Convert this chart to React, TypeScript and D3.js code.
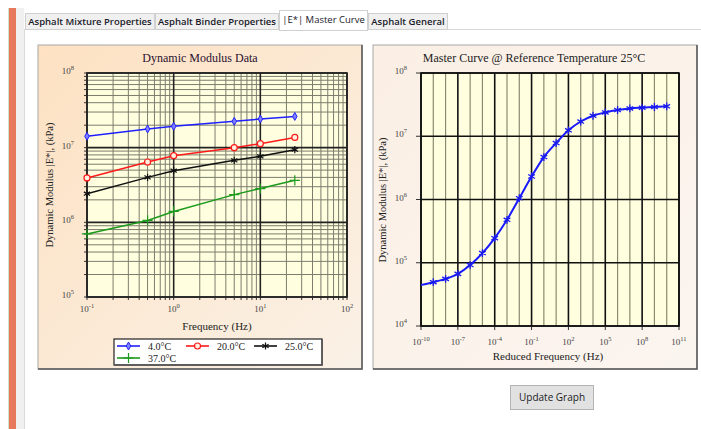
import React from 'react';
import * as d3 from 'd3';

// ---------- data ----------
const freqs = [0.1, 0.5, 1, 5, 10, 25];
const e4C = [1.42e7, 1.78e7, 1.93e7, 2.25e7, 2.42e7, 2.62e7];
const e20C = [3.93e6, 6.43e6, 7.8e6, 1.0e7, 1.13e7, 1.37e7];
const e25C = [2.42e6, 4.0e6, 4.92e6, 6.76e6, 7.65e6, 9.4e6];
const e37C = [7.0e5, 1.06e6, 1.4e6, 2.35e6, 2.83e6, 3.65e6];
const seriesNames = ['4.0°C', '20.0°C', '25.0°C', '37.0°C'];

const masterExp = [-10, -9, -8, -7, -6, -5, -4, -3, -2, -1, 0, 1, 2, 3, 4, 5, 6, 7, 8, 9, 10];
const masterE = [4.47e4, 4.93e4, 5.56e4, 6.67e4, 9.2e4, 1.42e5, 2.45e5, 4.77e5, 1.05e6, 2.31e6, 4.69e6,
  7.8e6, 1.24e7, 1.71e7, 2.11e7, 2.38e7, 2.6e7, 2.75e7, 2.83e7, 2.9e7, 2.97e7];

const leftXTickExp = [-1, 0, 1, 2];
const leftYTickExp = [5, 6, 7, 8];
const rightXTickExp = [-10, -7, -4, -1, 2, 5, 8, 11];
const rightYTickExp = [4, 5, 6, 7, 8];
const tabLabels = ['Asphalt Mixture Properties', 'Asphalt Binder Properties', '|E*| Master Curve', 'Asphalt General'];

const SERIF = '"Liberation Serif", "Times New Roman", serif';
const SANS = '"Open Sans", "Noto Sans", sans-serif';

function Pow({ x, y, exp, anchor }: { x: number; y: number; exp: number; anchor: string }) {
  return (
    <text x={x} y={y} textAnchor={anchor as any} fontFamily={SERIF} fontSize={9} fill="#444">
      10<tspan dy={-4} fontSize={6.5}>{String(exp)}</tspan>
    </text>
  );
}

function Marker({ kind, x, y, color }: { kind: string; x: number; y: number; color: string }) {
  if (kind === 'diamond') {
    const p = d3.symbol().type(d3.symbolDiamond).size(18)();
    return <path d={p as string} transform={`translate(${x},${y})`} fill="#8080ff" stroke={color} strokeWidth={1} />;
  }
  if (kind === 'circle') {
    return <circle cx={x} cy={y} r={3} fill="#fff0e0" stroke={color} strokeWidth={1.2} />;
  }
  if (kind === 'asterisk') {
    const p = d3.symbol().type(d3.symbolAsterisk).size(36)();
    return <path d={p as string} transform={`translate(${x},${y})`} fill="none" stroke={color} strokeWidth={1.2} />;
  }
  const p = d3.symbol().type(d3.symbolPlus).size(36)();
  return <path d={p as string} transform={`translate(${x},${y})`} fill="none" stroke={color} strokeWidth={1.2} />;
}

function LeftChart() {
  const x = d3.scaleLog().domain([0.1, 100]).range([87, 347]);
  const y = d3.scaleLog().domain([1e5, 1e8]).range([297, 73]);
  const xt = x.ticks();
  const yt = y.ticks();
  const isMajor = (v: number) => Math.abs(Math.log10(v) - Math.round(Math.log10(v))) < 1e-6;
  const series = [
    { name: seriesNames[0], vals: e4C, color: '#2020ff', kind: 'diamond' },
    { name: seriesNames[1], vals: e20C, color: '#ff1a1a', kind: 'circle' },
    { name: seriesNames[2], vals: e25C, color: '#111', kind: 'asterisk' },
    { name: seriesNames[3], vals: e37C, color: '#1c9a1c', kind: 'plus' },
  ];
  const line = d3.line<number>().x((_, i) => x(freqs[i])).y((d) => y(d));
  const legendPos = [
    { lx: 117, ly: 346 },
    { lx: 186, ly: 346 },
    { lx: 254, ly: 346 },
    { lx: 117, ly: 358 },
  ];
  return (
    <g>
      <rect x={38} y={45} width={324} height={324} fill="url(#gLeft)" stroke="#a8a8a8" strokeWidth={1} />
      <path d="M362,45 V369 H38" fill="none" stroke="#555" strokeWidth={1.5} />
      <text x={200} y={62} textAnchor="middle" fontFamily={SERIF} fontSize={12} fill="#2a1030">Dynamic Modulus Data</text>
      <rect x={87} y={73} width={260} height={224} fill="#ffffe0" />
      {xt.filter((v) => !isMajor(v)).map((v, i) => (
        <line key={'xm' + i} x1={x(v)} x2={x(v)} y1={73} y2={297} stroke="#7c7c6c" strokeWidth={1} />
      ))}
      {yt.filter((v) => !isMajor(v)).map((v, i) => (
        <line key={'ym' + i} x1={87} x2={347} y1={y(v)} y2={y(v)} stroke="#7c7c6c" strokeWidth={1} />
      ))}
      {xt.filter((v) => isMajor(v)).map((v, i) => (
        <line key={'xM' + i} x1={x(v)} x2={x(v)} y1={73} y2={297} stroke="#222" strokeWidth={1.6} />
      ))}
      {yt.filter((v) => isMajor(v)).map((v, i) => (
        <line key={'yM' + i} x1={87} x2={347} y1={y(v)} y2={y(v)} stroke="#222" strokeWidth={1.6} />
      ))}
      {yt.map((v, i) => (
        <line key={'yt' + i} x1={84} x2={87} y1={y(v)} y2={y(v)} stroke="#333" strokeWidth={1} />
      ))}
      {xt.map((v, i) => (
        <line key={'xt' + i} x1={x(v)} x2={x(v)} y1={297} y2={300} stroke="#333" strokeWidth={1} />
      ))}
      <rect x={87} y={73} width={260} height={224} fill="none" stroke="#222" strokeWidth={1.6} />
      {leftYTickExp.map((e) => (
        <Pow key={'ly' + e} x={74} y={y(10 ** e) + 1} exp={e} anchor="end" />
      ))}
      {leftXTickExp.map((e) => (
        <Pow key={'lx' + e} x={x(10 ** e)} y={312} exp={e} anchor="middle" />
      ))}
      {series.map((s) => (
        <g key={s.name}>
          <path d={line(s.vals) as string} fill="none" stroke={s.color} strokeWidth={1.5} />
          {s.vals.map((v, i) => (
            <Marker key={i} kind={s.kind} x={x(freqs[i])} y={y(v)} color={s.color} />
          ))}
        </g>
      ))}
      <text x={217} y={330} textAnchor="middle" fontFamily={SERIF} fontSize={11} fill="#222">Frequency (Hz)</text>
      <text transform="translate(53,185) rotate(-90)" textAnchor="middle" fontFamily={SERIF} fontSize={10.5} fill="#222">
        Dynamic Modulus |E*|, (kPa)
      </text>
      <rect x={114} y={339} width={208} height={26} fill="#fff" stroke="#222" strokeWidth={1.2} />
      <path d="M322,339.5 V365 H114.5" fill="none" stroke="#555" strokeWidth={1.5} />
      {series.map((s, i) => (
        <g key={'lg' + i}>
          <line x1={legendPos[i].lx} x2={legendPos[i].lx + 23} y1={legendPos[i].ly} y2={legendPos[i].ly} stroke={s.color} strokeWidth={1.6} />
          <Marker kind={s.kind} x={legendPos[i].lx + 11.5} y={legendPos[i].ly} color={s.color} />
          <text x={legendPos[i].lx + 31} y={legendPos[i].ly + 3.5} fontFamily={SERIF} fontSize={10} fill="#222">{s.name}</text>
        </g>
      ))}
    </g>
  );
}

function RightChart() {
  const x = d3.scaleLog().domain([1e-10, 1e11]).range([421, 679]);
  const y = d3.scaleLog().domain([1e4, 1e8]).range([326, 73]);
  const decades = d3.range(-10, 12);
  const line = d3.line<number>().x((_, i) => x(10 ** masterExp[i])).y((d) => y(d)).curve(d3.curveMonotoneX);
  const star = d3.symbol().type(d3.symbolAsterisk).size(42)() as string;
  return (
    <g>
      <rect x={373} y={45} width={324} height={324} fill="url(#gRight)" stroke="#a8a8a8" strokeWidth={1} />
      <path d="M697,45 V369 H373" fill="none" stroke="#555" strokeWidth={1.5} />
      <text x={534} y={62} textAnchor="middle" fontFamily={SERIF} fontSize={12} fill="#222">
        Master Curve @ Reference Temperature 25°C
      </text>
      <rect x={421} y={73} width={258} height={253} fill="#ffffe0" />
      {decades.map((e) => {
        const major = rightXTickExp.includes(e);
        return (
          <line key={'xd' + e} x1={x(10 ** e)} x2={x(10 ** e)} y1={73} y2={326}
            stroke={major ? '#111' : '#8a8a70'} strokeWidth={major ? 1.6 : 1.2} />
        );
      })}
      {rightYTickExp.map((e) => (
        <line key={'yd' + e} x1={421} x2={679} y1={y(10 ** e)} y2={y(10 ** e)} stroke="#111" strokeWidth={1.6} />
      ))}
      {rightYTickExp.map((e) => (
        <line key={'ytk' + e} x1={416} x2={421} y1={y(10 ** e)} y2={y(10 ** e)} stroke="#333" strokeWidth={1} />
      ))}
      {rightXTickExp.map((e) => (
        <line key={'xtk' + e} x1={x(10 ** e)} x2={x(10 ** e)} y1={326} y2={330} stroke="#333" strokeWidth={1} />
      ))}
      <rect x={421} y={73} width={258} height={253} fill="none" stroke="#111" strokeWidth={1.6} />
      {rightYTickExp.map((e) => (
        <Pow key={'ry' + e} x={407} y={y(10 ** e) + 1} exp={e} anchor="end" />
      ))}
      {rightXTickExp.map((e) => (
        <Pow key={'rx' + e} x={x(10 ** e)} y={345} exp={e} anchor="middle" />
      ))}
      <path d={line(masterE) as string} fill="none" stroke="#1a1aff" strokeWidth={2} />
      {masterE.slice(1).map((v, i) => (
        <path key={'m' + i} d={star} transform={`translate(${x(10 ** masterExp[i + 1])},${y(v)})`}
          fill="none" stroke="#1a1aee" strokeWidth={1.3} />
      ))}
      <text x={548} y={360} textAnchor="middle" fontFamily={SERIF} fontSize={11} fill="#222">Reduced Frequency (Hz)</text>
      <text transform="translate(386,200) rotate(-90)" textAnchor="middle" fontFamily={SERIF} fontSize={10.5} fill="#222">
        Dynamic Modulus |E*|, (kPa)
      </text>
    </g>
  );
}

function Tabs() {
  const tabs = [
    { x0: 25, x1: 155 },
    { x0: 155, x1: 279 },
    { x0: 279, x1: 368 },
    { x0: 368, x1: 448 },
  ];
  return (
    <g>
      {tabs.map((t, i) => {
        const sel = i === 2;
        return (
          <g key={i}>
            <rect x={t.x0 + 0.5} y={sel ? 10.5 : 13.5} width={t.x1 - t.x0 - 1} height={sel ? 20 : 16}
              fill={sel ? '#ffffff' : '#f0f0f0'} stroke="#d0d0d0" strokeWidth={1} />
            <text x={(t.x0 + t.x1) / 2} y={sel ? 23 : 25} textAnchor="middle" fontFamily={SANS}
              fontSize={9.5} fill="#1a1a2a" fontWeight={sel ? 400 : 600}>
              {tabLabels[i]}
            </text>
          </g>
        );
      })}
    </g>
  );
}

export default function App() {
  return (
    <div style={{ position: 'fixed', left: 0, top: 0 }}>
      <svg width={701} height={429} viewBox="0 0 701 429" style={{ display: 'block' }}>
        <defs>
          <linearGradient id="gLeft" x1="0" y1="0" x2="1" y2="1">
            <stop offset="0" stopColor="#fde1c2" />
            <stop offset="1" stopColor="#faf1e6" />
          </linearGradient>
          <linearGradient id="gRight" x1="0" y1="0" x2="1" y2="1">
            <stop offset="0" stopColor="#fbefe4" />
            <stop offset="1" stopColor="#fbf5f0" />
          </linearGradient>
        </defs>
        <rect x={0} y={0} width={701} height={429} fill="#ffffff" />
        <rect x={16} y={8} width={8} height={421} fill="#f0f0f0" />
        <line x1={24.5} x2={24.5} y1={29} y2={429} stroke="#d9d9d9" />
        <line x1={24} x2={701} y1={29.5} y2={29.5} stroke="#d9d9d9" />
        <rect x={8} y={8} width={1} height={421} fill="#cfe3c8" />
        <rect x={9} y={8} width={7} height={421} fill="#e8785c" />
        <Tabs />
        <LeftChart />
        <RightChart />
        <rect x={510.5} y={385.5} width={83} height={24} fill="#e1e1e1" stroke="#b4b4b4" strokeWidth={1} />
        <text x={552} y={401} textAnchor="middle" fontFamily={SANS} fontSize={10} fill="#222">Update Graph</text>
      </svg>
    </div>
  );
}
